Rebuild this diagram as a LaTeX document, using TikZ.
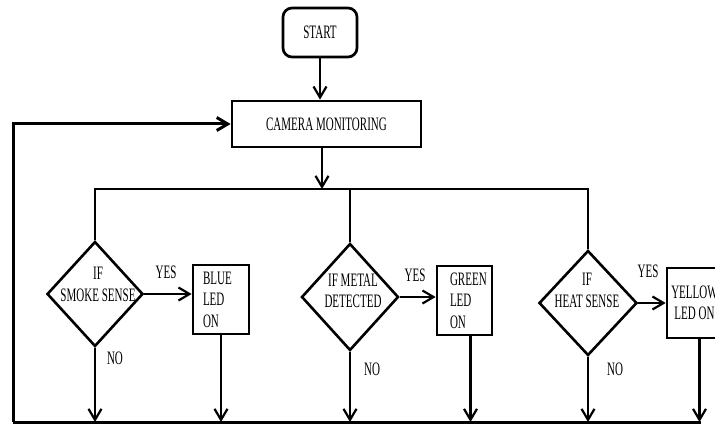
\documentclass[tikz,border=0pt]{standalone}
\usepackage{fontspec}
\setmainfont{Liberation Serif}[FakeStretch=0.58]
\usetikzlibrary{arrows.meta,shapes.geometric}
\begin{document}
\begin{tikzpicture}[x=1pt,y=-1pt,
  every node/.style={font=\fontsize{19}{21.5}\selectfont},
  box/.style={draw, line width=2.7pt, inner sep=0pt},
  dec/.style={draw, diamond, line width=2.6pt, inner sep=0pt},
  conn/.style={line width=2.2pt},
  arr/.style={conn, -{Straight Barb[length=11pt,width=13pt]}},
  fb/.style={line width=3pt},
  lbl/.style={inner sep=0pt}]
\useasboundingbox (0,0) rectangle (715,425);

% nodes
\node[box, rounded corners=9pt, minimum width=74pt, minimum height=49pt] (start) at (320,32.5) {START};
\node[box, minimum width=189pt, minimum height=46pt] (camera) at (326.5,124) {CAMERA MONITORING};

\node[dec, minimum width=96pt, minimum height=105pt] (d1) at (95,294) {};
\node[dec, minimum width=97pt, minimum height=107pt] (d2) at (350,297) {};
\node[dec, minimum width=98pt, minimum height=105pt] (d3) at (588,303) {};
\node[lbl, align=center] (t1) at (98,284.5) {IF\\SMOKE SENSE};
\node[lbl, align=center] (t2) at (353,291) {IF METAL\\DETECTED};
\node[lbl, align=center] (t3) at (587,290.5) {IF\\HEAT SENSE};

\node[box, minimum height=69pt, text width=36pt, inner xsep=10pt, align=left] (blue) at (221,299.5) {BLUE\\LED\\ON};
\node[box, minimum height=69pt, text width=29pt, inner xsep=13pt, align=left] (green) at (464.5,300.5) {GREEN\\LED\\ON};
\node[box, minimum height=70pt, minimum width=55pt, align=center] (yellow) at (694.5,303) {YELLOW\\LED ON};

\node[lbl] (y1) at (166,272) {YES};
\node[lbl] (y2) at (415,275) {YES};
\node[lbl] (y3) at (648,271) {YES};
\node[lbl] (n1) at (115,358) {NO};
\node[lbl] (n2) at (372,369) {NO};
\node[lbl] (n3) at (615,369) {NO};

% coordinates
\coordinate (bus) at (322,189);
\coordinate (fl) at (13,422);
\coordinate (fr) at (701,422);
\coordinate (gexit) at ([xshift=6pt]green.south);
\coordinate (yexit) at ([xshift=5pt]yellow.south);

% connectors
\draw[arr] (start.south) -- (start.south |- camera.north);
\draw[arr] (camera.south -| bus) -- (bus);
\draw[conn, line width=2.6pt] (d1.north) -- (d1.north |- bus) -- (d3.north |- bus) -- (d3.north);
\draw[conn] (d2.north |- bus) -- (d2.north);

\draw[arr] (d1.east) -- (d1.east -| blue.west);
\draw[arr] (d2.east) -- (d2.east -| green.west);
\draw[arr] (d3.east) -- (d3.east -| yellow.west);

\draw[arr] (d1.south) -- (d1.south |- fl);
\draw[arr] (blue.south) -- (blue.south |- fl);
\draw[arr] (d2.south) -- (d2.south |- fl);
\draw[arr] (gexit) -- (gexit |- fl);
\draw[arr] (d3.south) -- (d3.south |- fl);
\draw[arr] (yexit) -- (yexit |- fl);

\draw[fb] (fl) -- (fr);
\draw[fb, -{Straight Barb[length=11pt,width=13pt]}] (fl) |- (camera.west);
\end{tikzpicture}
\end{document}
